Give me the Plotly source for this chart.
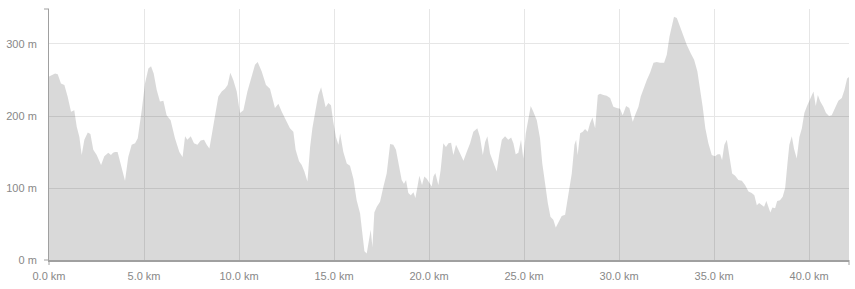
import plotly.graph_objects as go

distance_km = [0.0, 0.32, 0.46, 0.63, 0.81, 0.98, 1.16, 1.33, 1.46, 1.6, 1.72, 1.86, 2.04, 2.18, 2.33, 2.51, 2.74, 2.91,
               3.12, 3.26, 3.37, 3.47, 3.61, 3.79, 4.0, 4.17, 4.35, 4.53, 4.67, 4.88, 5.05, 5.23, 5.37, 5.51, 5.67, 5.84,
               6.02, 6.19, 6.4, 6.63, 6.86, 7.03, 7.16, 7.28, 7.46, 7.63, 7.81, 7.98, 8.16, 8.3, 8.44, 8.58, 8.74, 8.91,
               9.09, 9.26, 9.4, 9.54, 9.7, 9.88, 10.05, 10.23, 10.44, 10.67, 10.84, 10.98, 11.19, 11.42, 11.63, 11.89,
               12.07, 12.25, 12.46, 12.68, 12.86, 12.98, 13.16, 13.3, 13.44, 13.6, 13.74, 13.86, 14.0, 14.17, 14.32,
               14.44, 14.56, 14.7, 14.84, 14.96, 15.1, 15.23, 15.32, 15.49, 15.67, 15.84, 16.02, 16.19, 16.37, 16.49,
               16.6, 16.72, 16.8, 16.93, 17.02, 17.12, 17.25, 17.42, 17.6, 17.77, 17.95, 18.12, 18.26, 18.38, 18.56,
               18.68, 18.79, 18.91, 19.04, 19.18, 19.28, 19.39, 19.49, 19.63, 19.75, 19.88, 20.02, 20.14, 20.23, 20.33,
               20.49, 20.61, 20.75, 20.89, 21.02, 21.16, 21.28, 21.42, 21.6, 21.81, 21.98, 22.16, 22.33, 22.54, 22.68,
               22.83, 22.95, 23.07, 23.21, 23.39, 23.56, 23.7, 23.83, 24.0, 24.17, 24.32, 24.44, 24.56, 24.7, 24.84,
               24.96, 25.09, 25.23, 25.35, 25.49, 25.67, 25.84, 25.96, 26.11, 26.25, 26.39, 26.54, 26.67, 26.81, 26.98,
               27.16, 27.33, 27.51, 27.65, 27.74, 27.82, 27.95, 28.09, 28.21, 28.35, 28.47, 28.6, 28.74, 28.88, 29.0,
               29.18, 29.35, 29.53, 29.7, 29.88, 30.05, 30.19, 30.37, 30.54, 30.72, 30.84, 31.02, 31.14, 31.32, 31.46,
               31.63, 31.81, 31.98, 32.16, 32.37, 32.51, 32.65, 32.77, 32.89, 33.04, 33.21, 33.38, 33.56, 33.77, 33.95,
               34.12, 34.26, 34.4, 34.54, 34.7, 34.88, 35.05, 35.19, 35.32, 35.42, 35.54, 35.67, 35.81, 35.95, 36.11,
               36.28, 36.46, 36.63, 36.81, 36.98, 37.12, 37.25, 37.37, 37.51, 37.63, 37.75, 37.86, 37.96, 38.07, 38.21,
               38.32, 38.47, 38.61, 38.74, 38.86, 38.96, 39.09, 39.21, 39.35, 39.49, 39.62, 39.75, 39.89, 40.04, 40.14,
               40.23, 40.35, 40.46, 40.59, 40.75, 40.89, 41.05, 41.19, 41.37, 41.54, 41.72, 41.86, 42.0, 42.1]

elevation_m = [255, 259, 258, 245, 243, 227, 206, 208, 185, 171, 146, 167, 177, 175, 153, 146, 132, 144,
               149, 146, 149, 150, 150, 132, 110, 143, 160, 162, 169, 208, 245, 266, 269, 259, 236, 220,
               221, 201, 194, 169, 150, 143, 172, 167, 172, 162, 160, 166, 167, 160, 155, 176, 199, 227,
               234, 238, 243, 260, 250, 234, 204, 208, 234, 257, 271, 275, 262, 243, 238, 211,
               217, 206, 194, 183, 178, 153, 137, 132, 123, 109, 157, 183, 204, 229, 240,
               227, 212, 218, 215, 192, 171, 160, 176, 150, 134, 131, 113, 83, 65, 37,
               12, 9, 23, 42, 18, 66, 74, 81, 102, 120, 161, 160, 153, 134, 111,
               106, 111, 93, 90, 94, 86, 102, 117, 104, 116, 113, 106, 102, 116, 121,
               104, 125, 162, 157, 162, 163, 146, 160, 150, 138, 150, 162, 178, 183, 171,
               146, 164, 172, 148, 134, 123, 148, 167, 172, 167, 170, 162, 147, 149, 167,
               141, 176, 199, 214, 206, 194, 169, 134, 106, 79, 60, 56, 45, 53, 61,
               63, 88, 120, 160, 167, 146, 176, 178, 182, 178, 190, 198, 183, 229, 231,
               229, 228, 225, 213, 211, 210, 201, 214, 211, 192, 201, 213, 227, 241, 250,
               260, 274, 275, 274, 274, 285, 310, 326, 338, 336, 324, 310, 299, 287, 278,
               262, 238, 213, 183, 162, 146, 144, 147, 147, 139, 160, 167, 144, 120, 117,
               111, 110, 104, 95, 93, 90, 76, 79, 76, 74, 82, 72, 66, 73, 72,
               82, 83, 88, 100, 134, 160, 172, 154, 141, 171, 183, 204, 214, 222, 227,
               234, 214, 229, 220, 213, 204, 200, 201, 211, 221, 225, 236, 252, 254]

x_ticks = [0, 5, 10, 15, 20, 25, 30, 35, 40]
x_tick_labels = ["0.0 km", "5.0 km", "10.0 km", "15.0 km", "20.0 km", "25.0 km", "30.0 km", "35.0 km", "40.0 km"]
y_ticks = [0, 100, 200, 300]
y_tick_labels = ["0 m", "100 m", "200 m", "300 m"]

fig = go.Figure()
fig.add_trace(go.Scatter(
    x=distance_km, y=elevation_m, mode="lines", fill="tozeroy",
    line=dict(width=0, color="rgba(0,0,0,0)"),
    fillcolor="rgba(0,0,0,0.15)", hoverinfo="skip", showlegend=False,
))

axis_color = "#a0a0a0"
label_font = dict(family="Liberation Sans, Arial, sans-serif", size=11, color="#888888")

fig.update_layout(
    width=855, height=289,
    margin=dict(l=49, r=6, t=9, b=29),
    paper_bgcolor="white", plot_bgcolor="white",
    showlegend=False,
    xaxis=dict(
        range=[0, 42.1], tickvals=x_ticks, ticktext=x_tick_labels,
        showgrid=True, gridcolor="#e6e6e6", gridwidth=1, zeroline=False,
        showline=True, linecolor=axis_color, linewidth=1.5,
        ticks="outside", ticklen=5, tickcolor="rgba(0,0,0,0)",
        tickfont=label_font, fixedrange=True,
    ),
    yaxis=dict(
        range=[0, 348.6], tickvals=y_ticks, ticktext=y_tick_labels,
        showgrid=True, gridcolor="#e6e6e6", gridwidth=1, zeroline=False,
        showline=True, linecolor=axis_color, linewidth=1,
        ticks="outside", ticklen=9, tickcolor="rgba(0,0,0,0)",
        tickfont=label_font, fixedrange=True,
    ),
)

# domain end ticks (d3-style outer ticks)
tick_style = dict(color=axis_color, width=1)
fig.add_shape(type="line", xref="paper", yref="paper", xsizemode="pixel", xanchor=0,
              x0=-5, x1=0, y0=0, y1=0, line=tick_style)
fig.add_shape(type="line", xref="paper", yref="paper", xsizemode="pixel", xanchor=0,
              x0=-5, x1=0, y0=1, y1=1, line=tick_style)
fig.add_shape(type="line", xref="paper", yref="paper", ysizemode="pixel", yanchor=0,
              x0=0, x1=0, y0=0, y1=-5, line=tick_style)
fig.add_shape(type="line", xref="paper", yref="paper", ysizemode="pixel", yanchor=0,
              x0=1, x1=1, y0=0, y1=-5, line=tick_style)

fig.write_html("out.html", config={"displayModeBar": False})
